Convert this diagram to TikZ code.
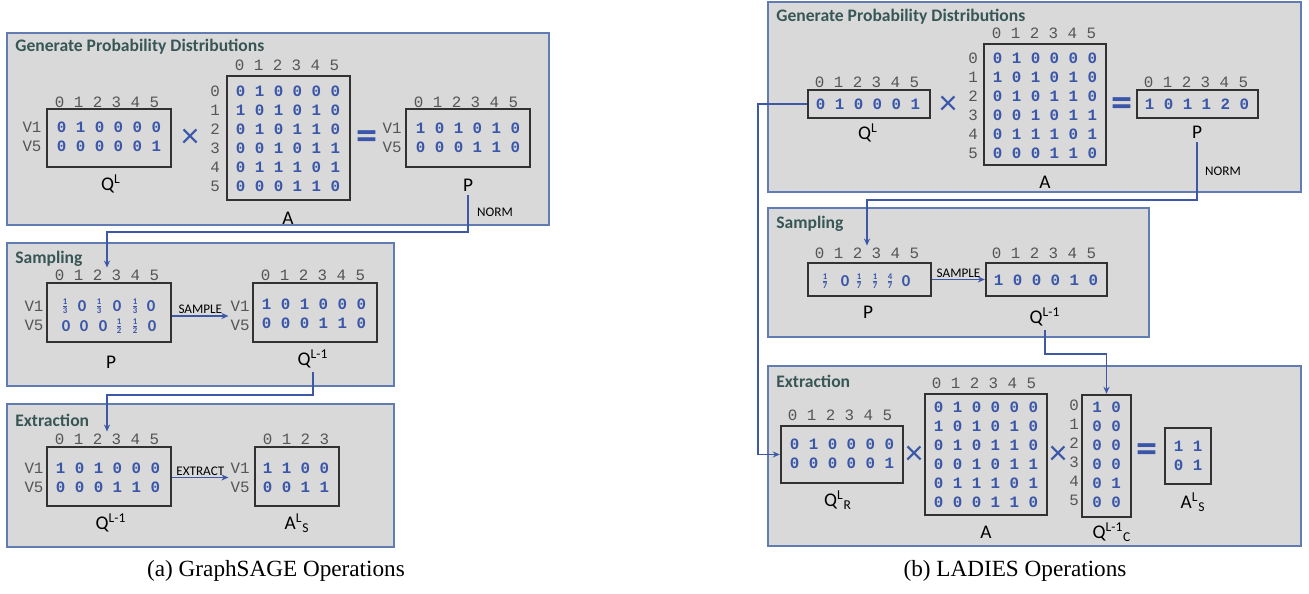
\documentclass[tikz,border=0pt]{standalone}
\usepackage{fontspec}
\usepackage{amsmath}
\setmainfont{Carlito}
\newfontfamily\cellfont{Liberation Mono}
\newfontfamily\capfont{Liberation Serif}
\usetikzlibrary{positioning, arrows.meta, fit}
\definecolor{panelgray}{RGB}{217, 217, 217}
\definecolor{panelblue}{RGB}{96, 124, 178}
\definecolor{titleslate}{RGB}{56, 86, 86}
\definecolor{cellblue}{RGB}{58, 86, 168}
\definecolor{headgray}{RGB}{85, 85, 85}
\definecolor{boxdark}{RGB}{50, 50, 50}
\definecolor{linkblue}{RGB}{62, 88, 168}
\newcommand{\frc}[2]{$\scriptstyle\frac{\text{\fontsize{5}{5}\selectfont#1}}{\text{\fontsize{5}{5}\selectfont#2}}$}

\begin{document}
\begin{tikzpicture}[
    x=0.02cm, y=-0.02cm,
    panel/.style={
        rectangle,
        draw=panelblue,
        line width=0.8pt,
        fill=panelgray,
        inner sep=0pt
    },
    paneltitle/.style={anchor=west, inner sep=0pt, text=titleslate, font=\bfseries\fontsize{10}{12}\selectfont},
    mbox/.style={rectangle, draw=boxdark, line width=1.4pt, fill=panelgray, inner sep=0pt},
    cellgrid/.style={align=center, inner sep=1pt, text=cellblue, font=\cellfont\bfseries\fontsize{9}{10.8}\selectfont},
    colhead/.style={inner sep=1pt, text=headgray, font=\cellfont\fontsize{9}{10.8}\selectfont},
    rowhead/.style={colhead, align=center},
    fraccell/.style={inner sep=0pt, text=cellblue, font=\bfseries\fontsize{9.5}{11}\selectfont},
    mname/.style={inner sep=2pt, font=\fontsize{11}{13}\selectfont},
    opsign/.style={inner sep=0pt, text=cellblue, font=\fontsize{20}{20}\selectfont},
    eqsign/.style={inner sep=0pt, text=cellblue, font=\bfseries\fontsize{24}{24}\selectfont},
    optext/.style={inner sep=1pt, font=\fontsize{7.5}{9}\selectfont},
    link/.style={draw=linkblue, line width=0.7pt, -{Stealth[length=4pt, width=3.5pt]}},
    subcap/.style={font=\capfont\fontsize{13.2}{15}\selectfont}
]

    \useasboundingbox (0,0) rectangle (1309,594);

    % --- (a) GraphSAGE: generate ---

    \node[panel, fit={(7,33) (549,225)}] (ga) {};
    \node[paneltitle] (gatitle) at (15,47) {Generate Probability Distributions};

    \node[mbox, fit={(47,109) (171,167)}] (gaq) {};
    \node[colhead] (gaqhead) at (107,102) {0 1 2 3 4 5};
    \node[rowhead] (gaqrows) at (32,137) {V1\\V5};
    \node[cellgrid] (gaqcells) at (109,137) {0 1 0 0 0 0\\0 0 0 0 0 1};
    \node[mname] (gaqname) at (111,184) {Q\textsuperscript{L}};

    \node[opsign] (gatimes) at (190,138) {×};

    \node[mbox, fit={(227,76) (350,200)}] (gaa) {};
    \node[colhead] (gaahead) at (287,65) {0 1 2 3 4 5};
    \node[rowhead] (gaarows) at (215,138.5) {0\\1\\2\\3\\4\\5};
    \node[cellgrid] (gaacells) at (288,138.5) {0 1 0 0 0 0\\1 0 1 0 1 0\\0 1 0 1 1 0\\0 0 1 0 1 1\\0 1 1 1 0 1\\0 0 0 1 1 0};
    \node[mname] (gaaname) at (288,218) {A};

    \node[eqsign] (gaeq) at (367,140) {=};

    \node[mbox, fit={(406,109) (530,167)}] (gap) {};
    \node[colhead] (gaphead) at (466,102) {0 1 2 3 4 5};
    \node[rowhead] (gaprows) at (392,137.5) {V1\\V5};
    \node[cellgrid] (gapcells) at (468,137.5) {1 0 1 0 1 0\\0 0 0 1 1 0};
    \node[mname] (gapname) at (468,185) {P};

    % --- (a) GraphSAGE: sampling ---

    \node[panel, fit={(7,243) (394,386)}] (sa) {};
    \node[paneltitle] (satitle) at (15,259) {Sampling};

    \node[mbox, fit={(47,283) (171,342)}] (sap) {};
    \node[colhead] (saphead) at (107,275) {0 1 2 3 4 5};
    \node[rowhead] (saprows) at (34,316) {V1\\V5};
    \foreach \x/\v [count=\i] in {65/\frc13, 82/0, 99/\frc13, 117/0, 135/\frc13, 151/0}
        \node[fraccell] (sapa\i) at (\x,306) {\v};
    \foreach \x/\v [count=\i] in {66/0, 84/0, 103/0, 119/\frc12, 135/\frc12, 152/0}
        \node[fraccell] (sapb\i) at (\x,326) {\v};
    \node[mname] (sapname) at (111,362) {P};

    \node[mbox, fit={(253,283) (377,342)}] (saq) {};
    \node[colhead] (saqhead) at (313,275) {0 1 2 3 4 5};
    \node[rowhead] (saqrows) at (240,316) {V1\\V5};
    \node[cellgrid] (saqcells) at (314,314) {1 0 1 0 0 0\\0 0 0 1 1 0};
    \node[mname] (saqname) at (313,359) {Q\textsuperscript{L-1}};

    \draw[link] (sap.east |- saqrows.west) -- (saqrows.west)
        node[optext, midway, above] (sasample) {SAMPLE};

    % --- (a) GraphSAGE: extraction ---

    \node[panel, fit={(7,404) (394,547)}] (ea) {};
    \node[paneltitle] (eatitle) at (15,420) {Extraction};

    \node[mbox, fit={(47,447) (171,506)}] (eaq) {};
    \node[colhead] (eaqhead) at (107,439) {0 1 2 3 4 5};
    \node[rowhead] (eaqrows) at (34,477.5) {V1\\V5};
    \node[cellgrid] (eaqcells) at (108,477.5) {1 0 1 0 0 0\\0 0 0 1 1 0};
    \node[mname] (eaqname) at (111,523) {Q\textsuperscript{L-1}};

    \node[mbox, fit={(255,447) (339,506)}] (eas) {};
    \node[colhead] (eashead) at (296,439) {0 1 2 3};
    \node[rowhead] (easrows) at (240,477.5) {V1\\V5};
    \node[cellgrid] (eascells) at (296,477.5) {1 1 0 0\\0 0 1 1};
    \node[mname] (easname) at (297,523) {A\textsuperscript{L}\textsubscript{S}};

    \draw[link] (eaq.east |- easrows.west) -- (easrows.west)
        node[optext, midway, above] (eaextract) {EXTRACT};

    % Connectors
    \coordinate (normbend) at (468,232);
    \draw[link] (gapname.south) -- (normbend) -| (saphead.north);
    \node[optext, anchor=west] (normtext) at (475,212) {NORM};

    \coordinate (extbend) at (313,395);
    \draw[link] (saqname.south) -- (extbend) -| (eaqhead.north);

    \node[subcap] (capa) at (276,571) {(a) GraphSAGE Operations};

    % --- (b) LADIES: generate ---

    \node[panel, fit={(768,2) (1301,192)}] (gb) {};
    \node[paneltitle] (gbtitle) at (776,17) {Generate Probability Distributions};

    \node[mbox, fit={(808,90) (930,118)}] (gbq) {};
    \node[colhead] (gbqhead) at (867,82) {0 1 2 3 4 5};
    \node[cellgrid] (gbqcells) at (868,104) {0 1 0 0 0 1};
    \node[mname] (gbqname) at (868,133) {Q\textsuperscript{L}};

    \node[opsign] (gbtimes) at (948,105) {×};

    \node[mbox, fit={(984,44) (1106,165)}] (gba) {};
    \node[colhead] (gbahead) at (1044,33) {0 1 2 3 4 5};
    \node[rowhead] (gbarows) at (973,105.5) {0\\1\\2\\3\\4\\5};
    \node[cellgrid] (gbacells) at (1045,105.5) {0 1 0 0 0 0\\1 0 1 0 1 0\\0 1 0 1 1 0\\0 0 1 0 1 1\\0 1 1 1 0 1\\0 0 0 1 1 0};
    \node[mname] (gbaname) at (1045,182) {A};

    \node[eqsign] (gbeq) at (1122,107) {=};

    \node[mbox, fit={(1137,90) (1258,118)}] (gbp) {};
    \node[colhead] (gbphead) at (1196,82) {0 1 2 3 4 5};
    \node[cellgrid] (gbpcells) at (1197,104) {1 0 1 1 2 0};
    \node[mname] (gbpname) at (1197,132) {P};

    % --- (b) LADIES: sampling ---

    \node[panel, fit={(768,208) (1149,337)}] (sb) {};
    \node[paneltitle] (sbtitle) at (776,224) {Sampling};

    \node[mbox, fit={(808,263) (931,296)}] (sbp) {};
    \node[colhead] (sbphead) at (867,253) {0 1 2 3 4 5};
    \foreach \x/\v [count=\i] in {825/\frc17, 845/0, 859/\frc17, 875/\frc17, 890/\frc47, 906/0}
        \node[fraccell] (sbp\i) at (\x,281) {\v};
    \node[mname] (sbpname) at (868,312) {P};

    \node[mbox, fit={(986,263) (1107,296)}] (sbq) {};
    \node[colhead] (sbqhead) at (1044,253) {0 1 2 3 4 5};
    \node[cellgrid] (sbqcells) at (1046,280) {1 0 0 0 1 0};
    \node[mname] (sbqname) at (1045,317) {Q\textsuperscript{L-1}};

    \draw[link] (sbp) -- (sbq) node[optext, midway, above] (sbsample) {SAMPLE};

    % --- (b) LADIES: extraction ---

    \node[panel, fit={(768,366) (1301,546)}] (eb) {};
    \node[paneltitle] (ebtitle) at (776,381) {Extraction};

    \node[mbox, fit={(781,426) (903,483)}] (ebq) {};
    \node[colhead] (ebqhead) at (840,415) {0 1 2 3 4 5};
    \node[cellgrid] (ebqcells) at (842,453.5) {0 1 0 0 0 0\\0 0 0 0 0 1};
    \node[mname] (ebqname) at (838,500) {Q\textsuperscript{L}\textsubscript{R}};

    \node[opsign] (ebtimesa) at (914,455) {×};

    \node[mbox, fit={(925,394) (1047,515)}] (eba) {};
    \node[colhead] (ebahead) at (984,383) {0 1 2 3 4 5};
    \node[cellgrid] (ebacells) at (986,454.5) {0 1 0 0 0 0\\1 0 1 0 1 0\\0 1 0 1 1 0\\0 0 1 0 1 1\\0 1 1 1 0 1\\0 0 0 1 1 0};
    \node[mname] (ebaname) at (986,532) {A};

    \node[opsign] (ebtimesb) at (1058,455) {×};

    \node[mbox, fit={(1082,395) (1131,517)}] (ebc) {};
    \node[rowhead] (ebcrows) at (1074,453) {0\\1\\2\\3\\4\\5};
    \node[cellgrid] (ebccells) at (1106.5,455) {1 0\\0 0\\0 0\\0 0\\0 1\\0 0};
    \node[mname] (ebcname) at (1112,532) {Q\textsuperscript{L-1}\textsubscript{C}};

    \node[eqsign] (ebeq) at (1147,453) {=};

    \node[mbox, fit={(1165,428) (1211,484)}] (ebs) {};
    \node[cellgrid] (ebscells) at (1188,455.5) {1 1\\0 1};
    \node[mname] (ebsname) at (1193,502) {A\textsuperscript{L}\textsubscript{S}};

    % Connectors
    \coordinate (lnormbend) at (1197,200);
    \draw[link] (gbpname.south) -- (lnormbend) -| (sbphead.north);
    \node[optext, anchor=west] (lnormtext) at (1203,171) {NORM};

    \coordinate (lsampbend) at (1045,354);
    \draw[link] (sbqname.south) -- (lsampbend) -| (ebc.north);

    \coordinate (lbypass) at (758,104);
    \draw[link] (gbq.west) -- (lbypass) |- (ebq.west);

    \node[subcap] (capb) at (1015,571) {(b) LADIES Operations};

\end{tikzpicture}
\end{document}
